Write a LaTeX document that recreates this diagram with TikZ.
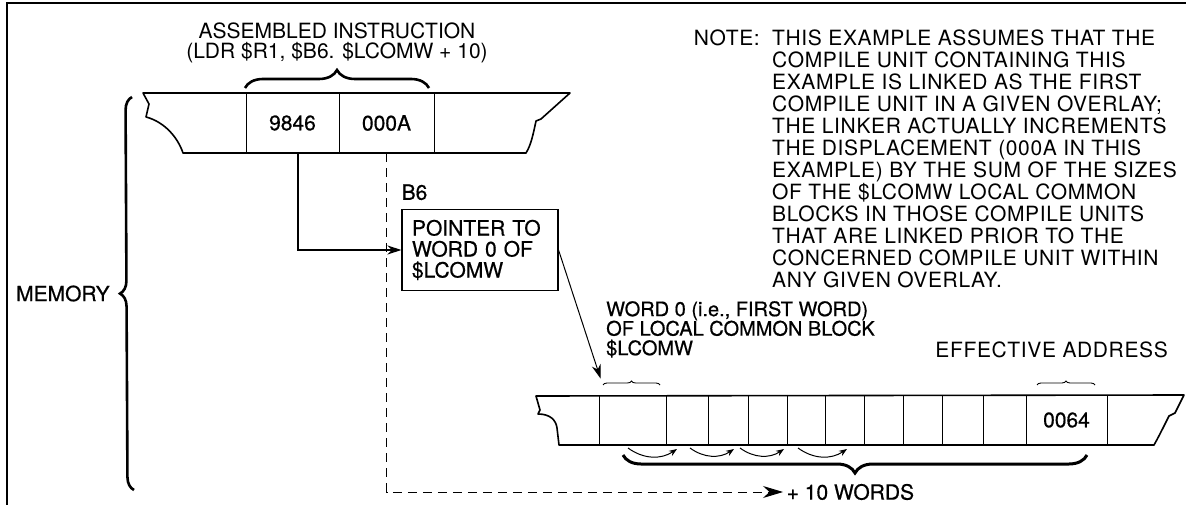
\documentclass[tikz,border=0pt]{standalone}
\usepackage{fontspec}
\setmainfont{TeX Gyre Heros}
\newfontfamily\heavyfont[FakeBold=0.6]{TeX Gyre Heros}
\newfontfamily\notefont[LetterSpace=3]{TeX Gyre Heros}
\usetikzlibrary{arrows.meta,positioning,calc,decorations.pathreplacing}

\begin{document}
\begin{tikzpicture}[
    x=1pt, y=-1pt,
    lbl/.style={inner sep=0pt, font=\fontsize{21}{20}\selectfont},
    heavylbl/.style={inner sep=0pt, font=\heavyfont\fontsize{21}{21}\selectfont},
    notetxt/.style={inner sep=0pt, align=left, font=\notefont\fontsize{21}{22}\selectfont},
    strip/.style={line width=1.6pt, line join=round},
    cell/.style={draw, line width=0.9pt, inner sep=0pt, font=\heavyfont\fontsize{21}{21}\selectfont},
    ptrbox/.style={draw, line width=1.1pt, align=left, text width=136pt, inner sep=10pt,
        minimum height=78pt, font=\heavyfont\fontsize{21}{21}\selectfont},
    bigbrace/.style={decorate, decoration={brace, amplitude=#1}, line width=2.6pt},
    smallbrace/.style={decorate, decoration={brace, amplitude=4pt}, line width=0.9pt},
    link/.style={line width=1.3pt, -{Stealth[length=14pt, width=9pt]}},
    dashlink/.style={line width=1pt, dash pattern=on 9pt off 6pt, -{Stealth[length=20pt, width=12pt]}}
]
    \useasboundingbox (0,0) rectangle (1186,505);

    % Frame
    \draw[line width=1.3pt] (1186,3) -- (7,3) -- (7,505);

    % Assembled instruction in memory
    \draw[strip] (143,93) -- (570,93) -- (541,119) -- (536,121)
        .. controls (533,135) and (531,145) .. (526,153) -- (183,153)
        .. controls (178,138) and (165,122) .. (146,117) -- (149,104) -- cycle;
    \node[cell, minimum width=93pt, minimum height=60pt] (c9846) at (292.5,123) {9846};
    \node[cell, minimum width=95pt, minimum height=60pt] (c000A) at (386.5,123) {000A};

    \draw[bigbrace=18pt] (245,88) -- (429,88)
        node[midway, above=24pt, lbl, align=center] (asm) {ASSEMBLED INSTRUCTION\\(LDR \$R1, \$B6. \$LCOMW + 10)};

    % Memory brace
    \draw[bigbrace=13pt] (134,490) -- (132,97)
        node[midway, left=22pt, heavylbl] (mem) {MEMORY};

    % Base register B6
    \node[ptrbox] (ptr) at (480,250) {POINTER TO\\WORD 0 OF\\\$LCOMW};
    \node[heavylbl, above=9pt of ptr.north west, anchor=south west] (b6) {B6};

    % Local common block
    \draw[strip] (536,396) -- (1184,395) -- (1175,413) -- (1169,416)
        .. controls (1163,428) and (1158,438) .. (1154,445) -- (559,445) -- (557,428)
        .. controls (556,420) and (550,414) .. (538,414) -- (540,410) -- cycle;
    \node[cell, minimum width=67pt, minimum height=50pt] (w0) at (632.5,420) {};
    \node[cell, minimum width=81pt, minimum height=50pt] (w10) at (1066.5,420) {0064};
    \foreach \x in {708,748,787,825,864,903,942,983}
        \draw[line width=0.9pt] (\x,395) -- (\x,445);

    \draw[smallbrace] (603,385) -- (660,385);
    \draw[smallbrace] (1037,385) -- (1095,385);
    \draw[bigbrace=18pt, line width=3pt] (1087,455) -- (623,455);

    % Word steps
    \foreach \a/\b in {628/677,690/734,740/784,798/847}
        \draw[line width=1pt, -{Stealth[length=8pt, width=6pt]}] (\a,448) to[bend right=35] (\b,449);

    \node[heavylbl, align=left, anchor=north west, font=\heavyfont\fontsize{20}{19.5}\selectfont] (w0lbl) at (606,301)
        {WORD 0 (i.e., FIRST WORD)\\OF LOCAL COMMON BLOCK\\\$LCOMW};
    \node[notetxt, anchor=base east] (eff) at (1168,357) {EFFECTIVE ADDRESS};

    % Note
    \node[notetxt, anchor=north west] (note) at (772,30) {THIS EXAMPLE ASSUMES THAT THE\\
        COMPILE UNIT CONTAINING THIS\\
        EXAMPLE IS LINKED AS THE FIRST\\
        COMPILE UNIT IN A GIVEN OVERLAY;\\
        THE LINKER ACTUALLY INCREMENTS\\
        THE DISPLACEMENT (000A IN THIS\\
        EXAMPLE) BY THE SUM OF THE SIZES\\
        OF THE \$LCOMW LOCAL COMMON\\
        BLOCKS IN THOSE COMPILE UNITS\\
        THAT ARE LINKED PRIOR TO THE\\
        CONCERNED COMPILE UNIT WITHIN\\
        ANY GIVEN OVERLAY.};
    \node[notetxt, anchor=north east] (notehd) at (760,30) {NOTE:};

    % Edges
    \coordinate (w0tip) at ([xshift=2pt, yshift=16pt]w0.north west);
    \node[heavylbl, anchor=west] (ten) at (783,492) {\,+ 10 WORDS};
    \draw[link] (c9846.south -| 298,0) |- (ptr.west);
    \draw[link, line width=1pt] (ptr.east) -- (w0tip);
    \draw[dashlink] (c000A.south) |- (ten.west);
\end{tikzpicture}
\end{document}
